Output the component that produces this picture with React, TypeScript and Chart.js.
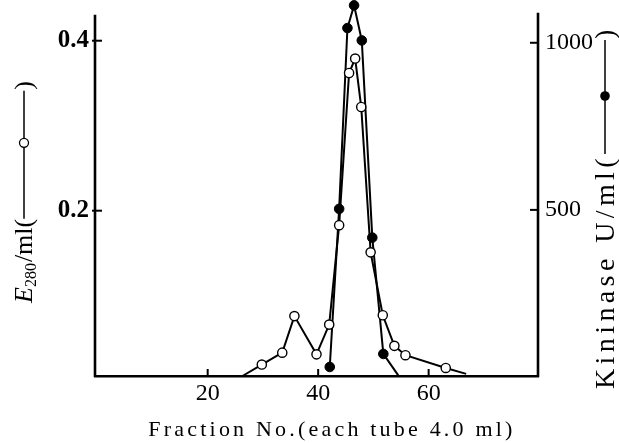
import React, { useEffect, useRef } from "react";
import { Chart, registerables } from "chart.js";

Chart.register(...registerables);

// Fraction numbers and values
const openFraction = [26.3, 29.8, 33.5, 35.7, 39.7, 42.0, 43.8, 45.6, 46.7, 47.8, 49.5, 51.7, 53.8, 55.8, 63.1, 66.8];
const openE280 = [0.0055, 0.019, 0.033, 0.076, 0.031, 0.066, 0.183, 0.362, 0.379, 0.322, 0.151, 0.077, 0.041, 0.030, 0.015, 0.008];
const filledFraction = [42.1, 43.8, 45.3, 46.5, 47.9, 49.8, 51.8, 54.5];
const filledKininase = [30, 503, 1044, 1112, 1007, 417, 69, 5];

const xTickValues = [20, 40, 60];
const leftTickValues = [0.2, 0.4];
const rightTickValues = [500, 1000];

// where the drawn vertical axes end at the top
const leftAxisTop = 0.4305;
const rightAxisTop = 1090;

const xTitle = "Fraction No.(each tube 4.0 ml)";
const leftTitleMain = "E";
const leftTitleSub = "280";
const leftTitleRest = "/ml(";
const rightTitle = "Kininase U/ml(";

const SERIF = '"Liberation Serif", "DejaVu Serif", serif';

const zeroPad = (s: any) => {
  s.paddingTop = 0;
  s.paddingBottom = 0;
  s.paddingLeft = 0;
  s.paddingRight = 0;
};

const decorPlugin = {
  id: "decor",
  afterDraw(chart: any) {
    const ctx = chart.ctx as CanvasRenderingContext2D;
    const { left, right, bottom } = chart.chartArea;
    const sx = chart.scales.x;
    const yl = chart.scales.yL;
    const yr = chart.scales.yR;
    ctx.save();
    ctx.strokeStyle = "#000";
    ctx.fillStyle = "#000";
    const seg = (x1: number, y1: number, x2: number, y2: number) => {
      ctx.beginPath();
      ctx.moveTo(x1, y1);
      ctx.lineTo(x2, y2);
      ctx.stroke();
    };
    // vertical axes
    ctx.lineWidth = 2.6;
    seg(left, yl.getPixelForValue(leftAxisTop), left, bottom + 1);
    seg(right, yr.getPixelForValue(rightAxisTop), right, bottom + 1);

    ctx.lineWidth = 2;
    xTickValues.forEach((v) => {
      const px = sx.getPixelForValue(v);
      seg(px, bottom, px, bottom - 7);
    });
    leftTickValues.forEach((v) => {
      const py = yl.getPixelForValue(v);
      seg(left - 3, py, left + 7, py);
    });
    rightTickValues.forEach((v) => {
      const py = yr.getPixelForValue(v);
      seg(right - 8, py, right, py);
    });

    // x title
    ctx.font = `22px ${SERIF}`;
    (ctx as any).letterSpacing = "3.2px";
    ctx.textAlign = "center";
    ctx.textBaseline = "alphabetic";
    ctx.fillText(xTitle, 332, 436);
    (ctx as any).letterSpacing = "0px";

    // left title (rotated)
    ctx.save();
    ctx.translate(32, 303);
    ctx.rotate(-Math.PI / 2);
    ctx.textAlign = "left";
    let cx = 0;
    ctx.font = `italic 26px ${SERIF}`;
    ctx.fillText(leftTitleMain, cx, 0);
    cx += ctx.measureText(leftTitleMain).width;
    ctx.font = `16px ${SERIF}`;
    ctx.fillText(leftTitleSub, cx, 4);
    cx += ctx.measureText(leftTitleSub).width + 1;
    ctx.font = `26px ${SERIF}`;
    ctx.fillText(leftTitleRest, cx, 0);
    cx += ctx.measureText(leftTitleRest).width;
    const lineLen = 128;
    ctx.lineWidth = 1.5;
    seg(cx, -8, cx + lineLen, -8);
    ctx.beginPath();
    ctx.arc(cx + 76, -8, 4.5, 0, Math.PI * 2);
    ctx.fillStyle = "#fff";
    ctx.fill();
    ctx.lineWidth = 1.3;
    ctx.stroke();
    ctx.fillStyle = "#000";
    ctx.fillText(")", cx + lineLen + 1, 0);
    ctx.restore();

    // right title (rotated)
    ctx.save();
    ctx.translate(614, 389);
    ctx.rotate(-Math.PI / 2);
    ctx.textAlign = "left";
    ctx.font = `28px ${SERIF}`;
    (ctx as any).letterSpacing = "4.4px";
    ctx.fillText(rightTitle, 0, 0);
    const rx = ctx.measureText(rightTitle).width;
    (ctx as any).letterSpacing = "0px";
    const rLen = 114;
    ctx.lineWidth = 1.5;
    seg(rx, -9, rx + rLen, -9);
    ctx.beginPath();
    ctx.arc(rx + 58, -9, 4.8, 0, Math.PI * 2);
    ctx.fill();
    ctx.fillText(")", rx + rLen + 1, 0);
    ctx.restore();

    ctx.restore();
  },
};

export default function App() {
  const ref = useRef<HTMLCanvasElement | null>(null);
  useEffect(() => {
    if (!ref.current) return;
    const nOpen = openFraction.length;
    const nFilled = filledFraction.length;
    const chart = new Chart(ref.current, {
      type: "line",
      data: {
        datasets: [
          {
            label: "E280/ml",
            data: openFraction.map((x, i) => ({ x, y: openE280[i] })),
            yAxisID: "yL",
            borderColor: "#000",
            borderWidth: 2,
            pointBackgroundColor: "#fff",
            pointBorderColor: "#000",
            pointBorderWidth: 1.4,
            pointRadius: (c: any) => (c.dataIndex === 0 || c.dataIndex === nOpen - 1 ? 0 : 4.6),
            tension: 0,
            clip: false,
          } as any,
          {
            label: "Kininase U/ml",
            data: filledFraction.map((x, i) => ({ x, y: filledKininase[i] })),
            yAxisID: "yR",
            borderColor: "#000",
            borderWidth: 2,
            pointBackgroundColor: "#000",
            pointBorderColor: "#000",
            pointBorderWidth: 1,
            pointRadius: (c: any) => (c.dataIndex === nFilled - 1 ? 0 : 4.8),
            tension: 0,
            clip: false,
          } as any,
        ],
      },
      options: {
        animation: false,
        responsive: false,
        layout: { autoPadding: false, padding: { top: 0, left: 0, right: 0, bottom: 0 } },
        plugins: { legend: { display: false }, tooltip: { enabled: false } },
        scales: {
          x: {
            type: "linear",
            position: "bottom",
            min: -0.4,
            max: 79.8,
            grid: { display: false, tickLength: 0 },
            border: { display: true, color: "#000", width: 2.6 },
            ticks: {
              color: "#000",
              font: { family: SERIF, size: 24 },
              padding: 3,
              maxRotation: 0,
            },
            afterBuildTicks: (s: any) => {
              s.ticks = xTickValues.map((v) => ({ value: v }));
            },
            afterFit: (s: any) => {
              s.height = 67;
              zeroPad(s);
            },
          },
          yL: {
            type: "linear",
            position: "left",
            min: 0.0055,
            max: 0.4479,
            grid: { display: false, tickLength: 0 },
            border: { display: false },
            ticks: {
              color: "#000",
              font: { family: SERIF, size: 25, weight: "bold" },
              padding: 6,
              callback: (v: any) => Number(v).toFixed(1),
            },
            afterBuildTicks: (s: any) => {
              s.ticks = leftTickValues.map((v) => ({ value: v }));
            },
            afterFit: (s: any) => {
              s.width = 95;
              zeroPad(s);
            },
          },
          yR: {
            type: "linear",
            position: "right",
            min: 3,
            max: 1128,
            grid: { display: false, tickLength: 0 },
            border: { display: false },
            ticks: {
              color: "#000",
              font: { family: SERIF, size: 24 },
              padding: 7,
              callback: (v: any) => String(v),
            },
            afterBuildTicks: (s: any) => {
              s.ticks = rightTickValues.map((v) => ({ value: v }));
            },
            afterFit: (s: any) => {
              s.width = 81;
              zeroPad(s);
            },
          },
        },
      } as any,
      plugins: [decorPlugin],
    });
    return () => chart.destroy();
  }, []);
  return (
    <div style={{ position: "fixed", left: 0, top: 0, width: 619, height: 443, background: "#fff" }}>
      <canvas ref={ref} width={619} height={443} style={{ width: 619, height: 443, display: "block" }} />
    </div>
  );
}
